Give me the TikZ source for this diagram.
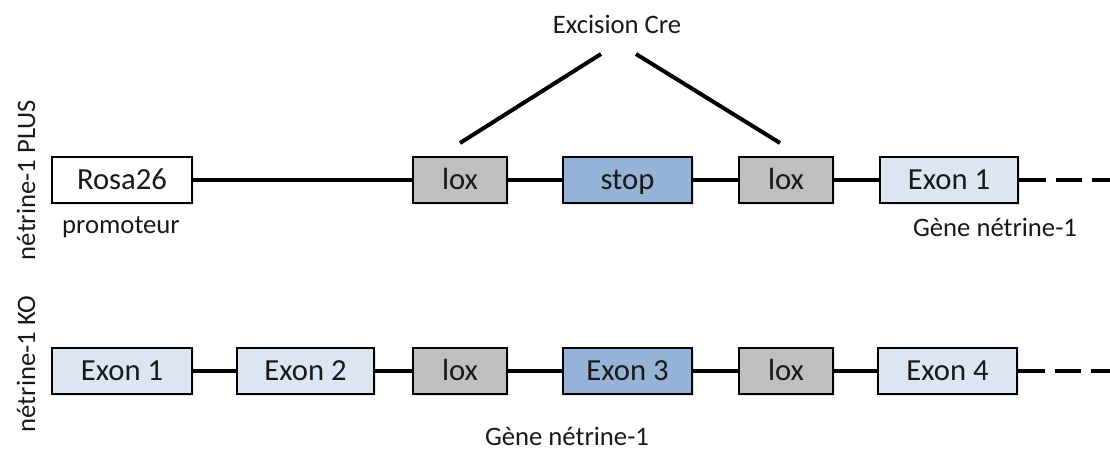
\documentclass[tikz,border=0pt]{standalone}
\usepackage{fontspec}
\setmainfont{Carlito}
\usepackage{xcolor}
\usepackage{tikz}
\usetikzlibrary{calc,shadows}

\definecolor{loxgray}{RGB}{191,191,191}
\definecolor{stopblue}{RGB}{149,179,215}
\definecolor{exonblue}{RGB}{220,230,242}

\tikzset{
  genebox/.style={draw, line width=1.4pt, minimum height=34.5pt, inner sep=0pt,
    font=\fontsize{23}{26}\selectfont, text=black!90,
    text height=15.8pt, text depth=1.2pt,
    drop shadow={shadow xshift=1.5pt, shadow yshift=-1.5pt, opacity=0.2}},
  loxbox/.style={genebox, fill=loxgray, minimum width=70.5pt},
  exonbox/.style={genebox, fill=exonblue},
  dna/.style={line width=3pt},
  lbl/.style={font=\fontsize{20}{23}\selectfont, text=black!90}
}

\begin{document}
\begin{tikzpicture}[x=0.75pt,y=0.75pt,yscale=-1,xscale=1]
\useasboundingbox (0,0) rectangle (1110,452);

%row labels
\node[lbl, rotate=90] (plus) at (26,180) {nétrine-1 PLUS};
\node[lbl, rotate=90] (ko) at (26,364) {nétrine-1 KO};

%nétrine-1 PLUS
\node[genebox, fill=white, minimum width=105pt] (rosa) at (122,180) {Rosa26};
\node[loxbox] (loxa) at (460,180) {lox};
\node[genebox, fill=stopblue, minimum width=96.75pt] (stop) at (627.5,180) {stop};
\node[loxbox] (loxb) at (786,180) {lox};
\node[exonbox, minimum width=103.5pt] (exa) at (949,180) {Exon 1};
\coordinate (enda) at (1110,180);

\node[lbl] (prom) at (121,227) {promoteur};
\node[lbl] (genea) at (995,227) {Gène nétrine-1};

\draw[dna] (rosa) -- (loxa);
\draw[dna] (loxa) -- (stop);
\draw[dna] (stop) -- (loxb);
\draw[dna] (loxb) -- (exa);
\draw[dna, dash pattern=on 20pt off 7.5pt] (exa.east) -- (enda);

%excision
\node[lbl] (cre) at (617,24) {Excision Cre};
\coordinate (crel) at (601,54);
\coordinate (crer) at (636,54);
\coordinate (loxla) at (460,143);
\coordinate (loxlb) at (780,143);
\draw[dna] (loxla) -- (crel);
\draw[dna] (crer) -- (loxlb);

%nétrine-1 KO
\node[exonbox, minimum width=105pt] (exb1) at (122,371) {Exon 1};
\node[exonbox, minimum width=102.75pt] (exb2) at (305.5,371) {Exon 2};
\node[loxbox] (loxc) at (460,371) {lox};
\node[genebox, fill=stopblue, minimum width=96.75pt] (exb3) at (627.5,371) {Exon 3};
\node[loxbox] (loxd) at (786,371) {lox};
\node[exonbox, minimum width=104.25pt] (exb4) at (947.5,371) {Exon 4};
\coordinate (endb) at (1110,371);

\node[lbl] (geneb) at (567,436) {Gène nétrine-1};

\draw[dna] (exb1) -- (exb2);
\draw[dna] (exb2) -- (loxc);
\draw[dna] (loxc) -- (exb3);
\draw[dna] (exb3) -- (loxd);
\draw[dna] (loxd) -- (exb4);
\draw[dna, dash pattern=on 20pt off 7.5pt] (exb4.east) -- (endb);

\end{tikzpicture}
\end{document}
